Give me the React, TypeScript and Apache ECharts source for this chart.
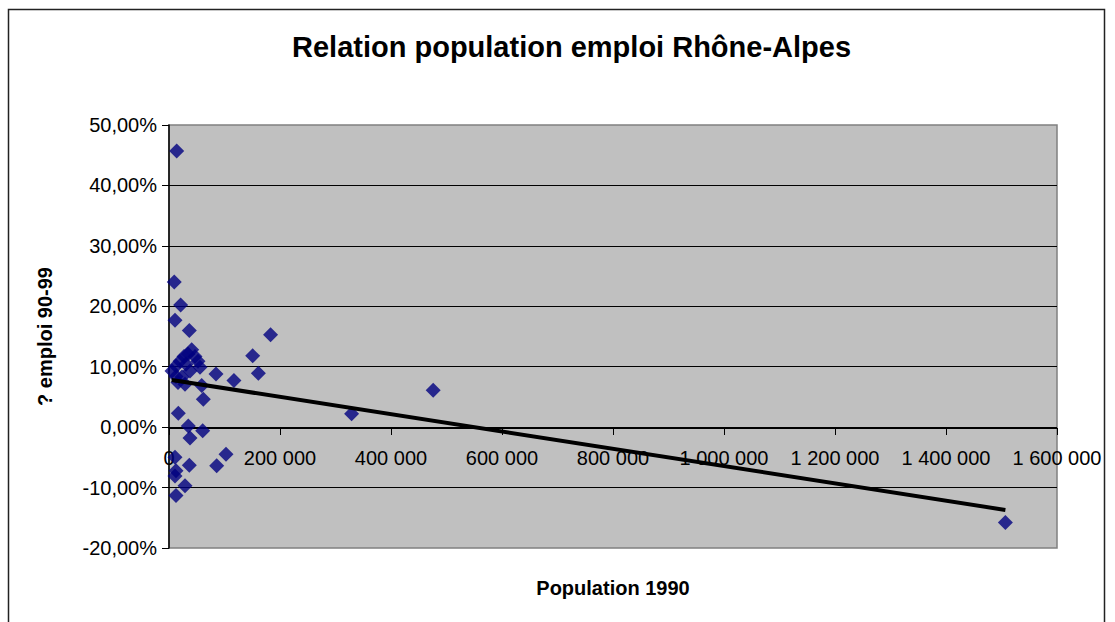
import React, { useEffect, useRef } from "react";
import * as echarts from "echarts";

const titleText = "Relation population emploi Rhône-Alpes";
const xAxisName = "Population 1990";
const yAxisName = "? emploi 90-99";

const population = [
  13900, 9500, 21000, 10800, 36600, 183000, 40900, 150800, 161000, 84700,
  117000, 58900, 61800, 16800, 34800, 37800, 60700, 10800, 102700, 85900,
  36600, 12600, 10800, 28800, 12600, 476000, 329000, 1507000,
  5400, 12600, 19800, 27000, 34200, 46900, 52300, 30600, 37800, 23400,
  28800, 16200, 55900, 12600,
];
const emploiChange = [
  45.7, 24.0, 20.2, 17.7, 16.0, 15.3, 12.8, 11.8, 8.9, 8.8,
  7.7, 6.9, 4.6, 2.3, 0.2, -1.8, -0.6, -5.0, -4.5, -6.4,
  -6.3, -7.2, -8.1, -9.7, -11.3, 6.1, 2.2, -15.8,
  9.3, 10.1, 10.9, 11.7, 12.1, 11.7, 10.9, 10.4, 9.3, 8.3,
  7.1, 7.4, 9.9, 8.4,
];
const trendX = [4900, 1507000];
const trendY = [7.8, -13.7];

const fmtX = (v: number) =>
  String(Math.round(v)).replace(/\B(?=(\d{3})+(?!\d))/g, " ");
const fmtY = (v: number) => v.toFixed(2).replace(".", ",") + "%";

export default function App() {
  const ref = useRef<HTMLDivElement>(null);
  useEffect(() => {
    if (!ref.current) return;
    const chart = echarts.init(ref.current, undefined, { renderer: "svg" });
    const font = "'Liberation Sans', Arial, sans-serif";
    chart.setOption({
      animation: false,
      backgroundColor: "#ffffff",
      textStyle: { fontFamily: font },
      title: {
        text: titleText,
        left: 287,
        top: 27,
        textStyle: { fontFamily: font, fontSize: 29, fontWeight: "bold", color: "#000" },
      },
      graphic: [
        {
          type: "rect",
          shape: { x: 8.5, y: 9.5, width: 1096, height: 700 },
          style: { fill: "none", stroke: "#222", lineWidth: 1.5 },
          silent: true,
          z: -1,
        },
      ],
      grid: {
        left: 169,
        top: 125,
        width: 888,
        height: 423,
        containLabel: false,
        outerBoundsMode: "none",
        show: true,
        backgroundColor: "#c0c0c0",
        borderColor: "#808080",
        borderWidth: 1.5,
      },
      xAxis: {
        type: "value",
        position: "bottom",
        offset: -120,
        min: 0,
        max: 1600000,
        interval: 200000,
        name: xAxisName,
        nameLocation: "middle",
        nameGap: 150,
        nameTextStyle: { fontFamily: font, fontSize: 20, fontWeight: "bold", color: "#000" },
        axisLine: { show: true, onZero: false, lineStyle: { color: "#000", width: 1 } },
        axisTick: { show: true, inside: false, length: 7, lineStyle: { color: "#000" } },
        axisLabel: {
          formatter: fmtX,
          fontFamily: font,
          fontSize: 20,
          color: "#000",
          margin: 20,
        },
        splitLine: { show: false },
      },
      yAxis: {
        type: "value",
        min: -20,
        max: 50,
        interval: 10,
        name: yAxisName,
        nameLocation: "middle",
        nameGap: 114,
        nameRotate: 90,
        nameTextStyle: { fontFamily: font, fontSize: 20, fontWeight: "bold", color: "#000" },
        axisLine: { show: true, onZero: false, lineStyle: { color: "#000", width: 1.5 } },
        axisTick: { show: true, inside: false, length: 7, lineStyle: { color: "#000" } },
        axisLabel: {
          formatter: fmtY,
          fontFamily: font,
          fontSize: 20,
          color: "#000",
          margin: 12,
        },
        splitLine: {
          show: true,
          showMinLine: false,
          showMaxLine: false,
          lineStyle: { color: "#000", width: 1 },
        },
      },
      series: [
        {
          type: "scatter",
          symbol: "diamond",
          symbolSize: 15,
          itemStyle: { color: "#000080" },
          data: population.map((x, i) => [x, emploiChange[i]]),
          z: 3,
        },
        {
          type: "line",
          showSymbol: false,
          symbol: "none",
          lineStyle: { color: "#000", width: 4 },
          data: trendX.map((x, i) => [x, trendY[i]]),
          z: 4,
        },
      ],
    });
    return () => chart.dispose();
  }, []);
  return (
    <div
      ref={ref}
      style={{ position: "absolute", left: 0, top: 0, width: 1115, height: 622 }}
    />
  );
}
